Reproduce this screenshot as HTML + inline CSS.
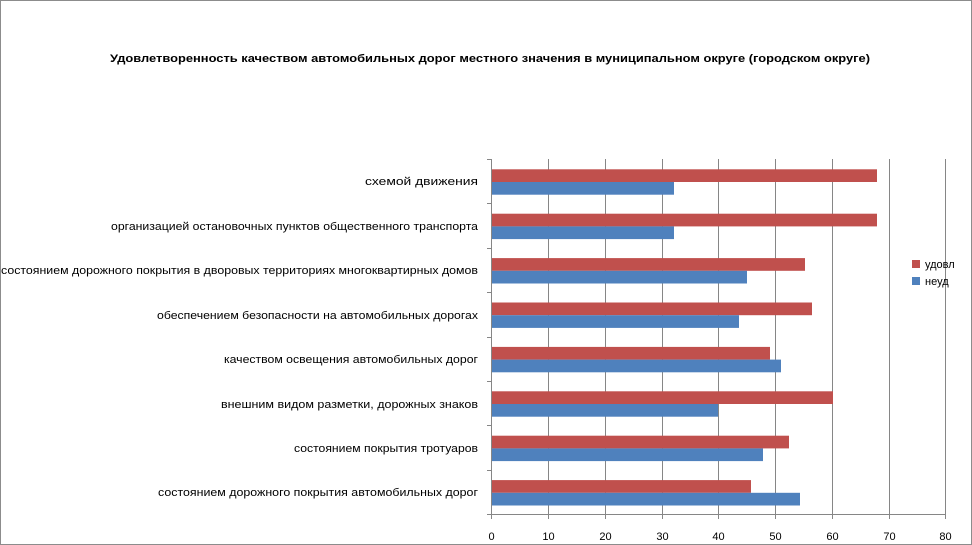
<!DOCTYPE html>
<html><head><meta charset="utf-8"><style>body{margin:0;background:#fff}svg{display:block}</style></head><body>
<svg width="972" height="545" xmlns="http://www.w3.org/2000/svg" font-family="'Liberation Sans', sans-serif">
<rect x="0.5" y="0.5" width="971" height="544" fill="#fff" stroke="#8c8c8c"/>
<text x="490" y="62" font-size="11" font-weight="bold" text-anchor="middle" textLength="760" lengthAdjust="spacingAndGlyphs">Удовлетворенность качеством автомобильных дорог местного значения в муниципальном округе (городском округе)</text>
<g stroke="#868686" stroke-width="1">
<line x1="548.5" y1="159" x2="548.5" y2="514"/><line x1="605.5" y1="159" x2="605.5" y2="514"/>
<line x1="662.5" y1="159" x2="662.5" y2="514"/><line x1="718.5" y1="159" x2="718.5" y2="514"/>
<line x1="775.5" y1="159" x2="775.5" y2="514"/><line x1="832.5" y1="159" x2="832.5" y2="514"/>
<line x1="889.5" y1="159" x2="889.5" y2="514"/><line x1="945.5" y1="159" x2="945.5" y2="514"/>
<line x1="491.5" y1="159" x2="491.5" y2="519"/>
<line x1="487" y1="514.5" x2="945" y2="514.5"/>
<line x1="487" y1="159.5" x2="491" y2="159.5"/><line x1="487" y1="203.5" x2="491" y2="203.5"/>
<line x1="487" y1="248.5" x2="491" y2="248.5"/><line x1="487" y1="292.5" x2="491" y2="292.5"/>
<line x1="487" y1="337.5" x2="491" y2="337.5"/><line x1="487" y1="381.5" x2="491" y2="381.5"/>
<line x1="487" y1="425.5" x2="491" y2="425.5"/><line x1="487" y1="470.5" x2="491" y2="470.5"/>
<line x1="548.5" y1="514" x2="548.5" y2="519"/><line x1="605.5" y1="514" x2="605.5" y2="519"/>
<line x1="662.5" y1="514" x2="662.5" y2="519"/><line x1="718.5" y1="514" x2="718.5" y2="519"/>
<line x1="775.5" y1="514" x2="775.5" y2="519"/><line x1="832.5" y1="514" x2="832.5" y2="519"/>
<line x1="889.5" y1="514" x2="889.5" y2="519"/><line x1="945.5" y1="514" x2="945.5" y2="519"/>
</g>
<g fill="#c0504d">
<rect x="492" y="169.3" width="385" height="12.7"/>
<rect x="492" y="213.7" width="385" height="12.7"/>
<rect x="492" y="258.1" width="313" height="12.7"/>
<rect x="492" y="302.5" width="320" height="12.7"/>
<rect x="492" y="346.9" width="278" height="12.7"/>
<rect x="492" y="391.3" width="341" height="12.7"/>
<rect x="492" y="435.7" width="297" height="12.7"/>
<rect x="492" y="480.1" width="259" height="12.7"/>
<rect x="912" y="260" width="8" height="8"/>
</g>
<g fill="#4f81bd">
<rect x="492" y="182" width="182" height="12.7"/>
<rect x="492" y="226.4" width="182" height="12.7"/>
<rect x="492" y="270.8" width="255" height="12.7"/>
<rect x="492" y="315.2" width="247" height="12.7"/>
<rect x="492" y="359.6" width="289" height="12.7"/>
<rect x="492" y="404" width="226" height="12.7"/>
<rect x="492" y="448.4" width="271" height="12.7"/>
<rect x="492" y="492.8" width="308" height="12.7"/>
<rect x="912" y="277" width="8" height="8"/>
</g>
<g font-size="11" fill="#000">
<text x="925" y="268">удовл</text>
<text x="925" y="285">неуд</text>
</g>
<g font-size="11" text-anchor="end" fill="#000">
<text x="478" y="185" textLength="113" lengthAdjust="spacingAndGlyphs">схемой движения</text>
<text x="478" y="230" textLength="367" lengthAdjust="spacingAndGlyphs">организацией остановочных пунктов общественного транспорта</text>
<text x="478" y="274" textLength="477" lengthAdjust="spacingAndGlyphs">состоянием дорожного покрытия в дворовых территориях многоквартирных домов</text>
<text x="478" y="319" textLength="321" lengthAdjust="spacingAndGlyphs">обеспечением безопасности на автомобильных дорогах</text>
<text x="478" y="363" textLength="254" lengthAdjust="spacingAndGlyphs">качеством освещения автомобильных дорог</text>
<text x="478" y="408" textLength="257" lengthAdjust="spacingAndGlyphs">внешним видом разметки, дорожных знаков</text>
<text x="478" y="452" textLength="184" lengthAdjust="spacingAndGlyphs">состоянием покрытия тротуаров</text>
<text x="478" y="496" textLength="320" lengthAdjust="spacingAndGlyphs">состоянием дорожного покрытия автомобильных дорог</text>
</g>
<g font-size="11" text-anchor="middle" fill="#000">
<text x="491.5" y="540">0</text><text x="548.5" y="540">10</text><text x="605.5" y="540">20</text>
<text x="662.5" y="540">30</text><text x="718.5" y="540">40</text><text x="775.5" y="540">50</text>
<text x="832.5" y="540">60</text><text x="889.5" y="540">70</text><text x="945.5" y="540">80</text>
</g>
</svg>
</body></html>
